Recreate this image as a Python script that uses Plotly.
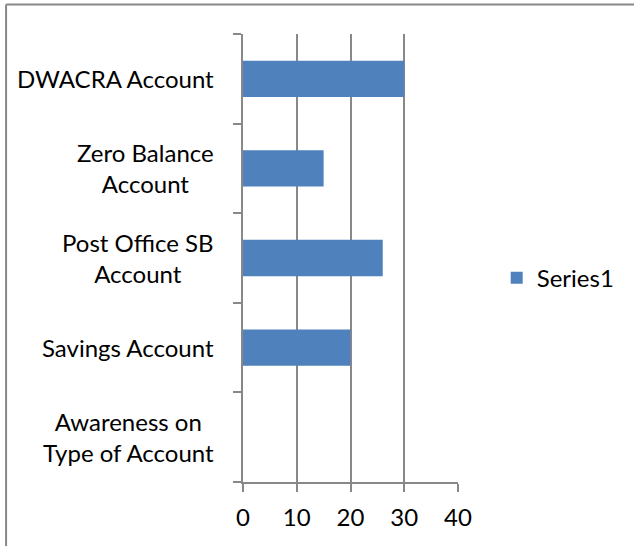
import plotly.graph_objects as go

# data, bottom to top as drawn
categories = [
    "Awareness on Type of Account",
    "Savings Account",
    "Post Office SB Account",
    "Zero Balance Account",
    "DWACRA Account",
]
label_text = [
    "Awareness on<br>Type of Account",
    "Savings Account",
    "Post Office SB<br>Account",
    "Zero Balance<br>Account",
    "DWACRA Account",
]
values = [None, 20, 26, 15, 30]
x_ticks = [0, 10, 20, 30, 40]

FONT = "Lato"
FSIZE = 24
GREY = "#888888"

fig = go.Figure()
fig.add_trace(
    go.Bar(
        x=values,
        y=categories,
        orientation="h",
        name="Series1",
        marker=dict(color="#4F81BD", line=dict(width=0)),
    )
)

# category labels as annotations so multi-line text stays centred
for cat, txt in zip(categories, label_text):
    fig.add_annotation(
        x=0, xref="paper", y=cat, yref="y",
        text=txt, showarrow=False,
        xanchor="right", align="center", xshift=-27,
        font=dict(family=FONT, size=FSIZE, color="black"),
    )

# outer chart border (only top and left fall inside the frame)
fig.add_shape(type="line", xref="paper", yref="paper",
              x0=-1.102, x1=1.9, y0=1.066, y1=1.066,
              line=dict(color=GREY, width=2))
fig.add_shape(type="line", xref="paper", yref="paper",
              x0=-1.102, x1=-1.102, y0=1.066, y1=-0.3,
              line=dict(color=GREY, width=2))

fig.update_layout(
    width=634,
    height=546,
    margin=dict(l=243, r=176, t=34, b=64, autoexpand=False),
    plot_bgcolor="white",
    paper_bgcolor="white",
    bargap=0.595,
    font=dict(family=FONT, size=FSIZE, color="black"),
    showlegend=True,
    legend=dict(
        x=1.18, y=0.455, xanchor="left", yanchor="middle",
        font=dict(family=FONT, size=FSIZE, color="black"),
        itemwidth=30,
    ),
    xaxis=dict(
        range=[0, 40],
        tickvals=x_ticks,
        showgrid=True, gridcolor=GREY, gridwidth=1.5,
        showline=True, linecolor=GREY, linewidth=1.5,
        ticks="outside", ticklen=8, tickcolor=GREY, tickwidth=1.5,
        ticklabelstandoff=5,
        zeroline=False,
        tickfont=dict(family=FONT, size=FSIZE),
    ),
    yaxis=dict(
        type="category",
        categoryorder="array", categoryarray=categories,
        showticklabels=False,
        showline=True, linecolor=GREY, linewidth=2,
        ticks="outside", tickson="boundaries", ticklen=8,
        tickcolor=GREY, tickwidth=1.5,
        showgrid=False, zeroline=False,
    ),
)

fig.write_html(
    "out.html",
    config={"displayModeBar": False},
    post_script="document.body.style.margin='0';",
)
